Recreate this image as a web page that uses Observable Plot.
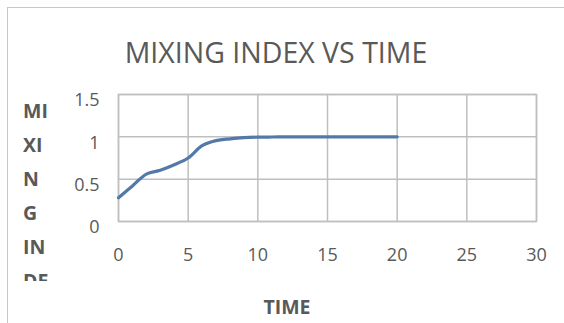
<!DOCTYPE html>
<html>
<head>
<meta charset="utf-8">
<script src="https://cdn.jsdelivr.net/npm/d3@7"></script>
<script src="https://cdn.jsdelivr.net/npm/@observablehq/plot@0.6"></script>
<style>
  html, body { margin: 0; padding: 0; background: #fff; }
  #wrap { position: relative; width: 564px; height: 323px; overflow: hidden; font-family: "Open Sans", sans-serif; }
  #frame { position: absolute; left: 7px; top: 7px; width: 560px; height: 320px; border-left: 1.5px solid #c8c8c8; border-top: 1.5px solid #c8c8c8; }
  #title { position: absolute; left: 0; width: 552px; top: 33px; text-align: center; font-size: 28.5px; color: #595959; white-space: nowrap; }
  #ylab { position: absolute; left: 23px; top: 94px; width: 40px; height: 187px; overflow: hidden; font-size: 19.5px; font-weight: bold; color: #595959; line-height: 34px; }
  #xlab { position: absolute; left: 0; width: 564px; top: 293px; text-align: center; font-size: 19.5px; font-weight: bold; color: #595959; }
  #xlab span { position: relative; left: 5px; }
  #chart { position: absolute; left: 0; top: 0; }
</style>
</head>
<body>
<div id="wrap">
  <div id="frame"></div>
  <div id="chart"></div>
  <div id="title"></div>
  <div id="ylab"></div>
  <div id="xlab"><span></span></div>
</div>
<script>
const titleText = "MIXING INDEX VS TIME";
const xLabel = "TIME";
const yLabelLines = ["MI", "XI", "N", "G", "IN", "DE"];
const time = [0, 1, 2, 3, 4, 5, 6, 7, 8, 9, 10, 11, 12, 13, 14, 15, 16, 17, 18, 19, 20];
const mixingIndex = [0.28, 0.42, 0.56, 0.605, 0.67, 0.75, 0.895, 0.955, 0.976, 0.99, 0.996, 0.998, 0.999, 1.0, 1.0, 1.0, 1.0, 1.0, 1.0, 1.0, 1.0];
const xTicks = [0, 5, 10, 15, 20, 25, 30];
const yTicks = [0, 0.5, 1, 1.5];

document.getElementById("title").textContent = titleText;
document.querySelector("#xlab span").textContent = xLabel;
document.getElementById("ylab").innerHTML = yLabelLines.map(s => `<div>${s}</div>`).join("");

const data = time.map((t, i) => ({t, m: mixingIndex[i]}));

const plot = Plot.plot({
  width: 564,
  height: 323,
  marginLeft: 118,
  marginRight: 28,
  marginTop: 94,
  marginBottom: 102,
  style: {fontFamily: "Open Sans, sans-serif", fontSize: "18px", color: "#595959", background: "transparent", overflow: "visible"},
  x: {domain: [0, 30], ticks: xTicks, label: null, tickFormat: d => String(d)},
  y: {domain: [0, 1.5], ticks: yTicks, label: null, tickFormat: d => String(d)},
  marks: [
    Plot.gridX(xTicks, {stroke: "#bfbfbf", strokeOpacity: 1, strokeWidth: 1.5}),
    Plot.gridY(yTicks, {stroke: "#bfbfbf", strokeOpacity: 1, strokeWidth: 1.5}),
    Plot.frame({stroke: "#bfbfbf", strokeWidth: 1.5}),
    Plot.axisX(xTicks, {tickSize: 0, tickPadding: 27, fill: "#595959", tickFormat: d => String(d)}),
    Plot.axisY(yTicks, {tickSize: 0, tickPadding: 19, dy: 6, fill: "#595959", tickFormat: d => String(d)}),
    Plot.line(data, {x: "t", y: "m", stroke: "#5279a8", strokeWidth: 3.2, curve: "catmull-rom"})
  ]
});
document.getElementById("chart").appendChild(plot);
</script>
</body>
</html>
